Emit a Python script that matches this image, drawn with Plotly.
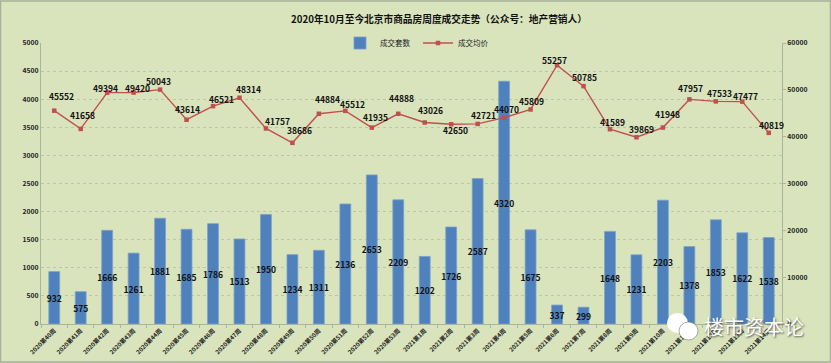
import plotly.graph_objects as go

weeks = [f"2020第{i}周" for i in range(40, 54)] + [f"2021第{i}周" for i in range(1, 15)]
units = [932, 575, 1666, 1261, 1881, 1685, 1786, 1513, 1950, 1234, 1311, 2136, 2653, 2209,
         1202, 1726, 2587, 4320, 1675, 337, 299, 1648, 1231, 2203, 1378, 1853, 1622, 1538]
prices = [45552, 41658, 49394, 49420, 50043, 43614, 46521, 48314, 41757, 38686, 44884, 45512, 41935, 44888,
          43026, 42650, 42721, 44070, 45809, 55257, 50785, 41589, 39869, 41948, 47957, 47533, 47477, 40819]
label_dx = [7, 2, -2, 4, -2, 1, 8, 9, 12, 7, 9, 7, 4, 3, 6, 4, 6, 2, 1, -3, 1, 3, 5, 5, 1, 4, 3, 3]
label_dy = [15, 14, 5, 5, 9, 11, 7, 9, 7, 13, 15, 7, 11, 16, 12, -6, 9, 9, 8, 5, 9, 7, 8, 14, 11, 8, 6, 8]

FONT = "Noto Sans CJK SC"
BG = "#d9e4bc"
GRID = "#bcc7a8"
AXIS = "#aab69c"
L, R, T, B = 41, 49, 42.5, 39
W, H = 831, 363
PW, PH = W - L - R, H - T - B


def px(x):
    return (x - L) / PW


def py(y):
    return 1 - (y - T) / PH


fig = go.Figure()
fig.add_trace(go.Bar(
    x=weeks, y=units, name="成交套数", marker=dict(color="#4f81bd", line=dict(color="#7ba0cd", width=0.8)),
    width=0.41, text=[str(v) for v in units], textposition="inside", insidetextanchor="middle",
    textangle=0, constraintext="none", cliponaxis=False,
    textfont=dict(family=FONT, size=8.5, color="#111111", weight="bold"),
))
fig.add_trace(go.Scatter(
    x=weeks, y=prices, name="成交均价", yaxis="y2", mode="lines+markers",
    line=dict(color="#c0504d", width=1.4), marker=dict(symbol="square", size=4.5, color="#c0504d"),
))

annotations = [
    dict(x=w, y=p, xref="x", yref="y2", text=str(p), showarrow=False, xshift=dx, yshift=dy,
         font=dict(family=FONT, size=8.5, color="#111111", weight="bold"))
    for w, p, dx, dy in zip(weeks, prices, label_dx, label_dy)
]
annotations.append(dict(
    x=px(754), y=py(327), xref="paper", yref="paper", xanchor="center", yanchor="middle", showarrow=False,
    text="楼市资本论", font=dict(family=FONT, size=20, color="white", shadow="1px 1px 2px #555555")))

shapes = [
    dict(type="rect", xref="paper", yref="paper", x0=px(0.5), x1=px(830.5), y0=py(362), y1=py(0.5),
         line=dict(color="#a7b09c", width=1.5), fillcolor="rgba(0,0,0,0)", layer="below"),
    dict(type="circle", xref="paper", yref="paper", x0=px(667), x1=px(688), y0=py(333), y1=py(313),
         line=dict(width=0), fillcolor="white"),
    dict(type="circle", xref="paper", yref="paper", x0=px(679), x1=px(698), y0=py(340), y1=py(322),
         line=dict(color="#777777", width=0.6), fillcolor="white"),
]

fig.update_layout(
    width=W, height=H, autosize=False,
    margin=dict(l=L, r=R, t=T, b=B, pad=0),
    paper_bgcolor=BG, plot_bgcolor=BG, bargap=0.59, showlegend=True,
    font=dict(family=FONT, size=7.5, color="#222222"),
    title=dict(text="2020年10月至今北京市商品房周度成交走势（公众号：地产营销人）",
               x=439 / W, xref="container", xanchor="center", y=1 - 20 / H, yanchor="middle",
               font=dict(family=FONT, size=9.7, color="#111111", weight="bold")),
    legend=dict(orientation="h", x=px(340), y=py(28), xanchor="left", yanchor="top",
                bgcolor="rgba(0,0,0,0)", font=dict(family=FONT, size=7.5, color="#222222"),
                itemwidth=30, tracegroupgap=0, entrywidth=33, entrywidthmode="pixels"),
    xaxis=dict(type="category", tickangle=-45, tickfont=dict(family=FONT, size=6, color="#222222", weight="bold"),
               showline=True, linecolor=AXIS, linewidth=1, ticks="outside", ticklen=3, tickcolor=AXIS,
               showgrid=False, range=[-0.5, 27.5], tickson="boundaries", automargin=False),
    yaxis=dict(range=[0, 5000], dtick=500, showline=True, linecolor=AXIS, linewidth=1, ticks="",
               gridcolor=GRID, griddash="dot", gridwidth=1, zeroline=False, automargin=False,
               tickfont=dict(family=FONT, size=6.8, color="#222222", weight="bold"), tickformat="d"),
    yaxis2=dict(range=[0, 60000], dtick=10000, overlaying="y", side="right", showline=True, linecolor=AXIS,
                linewidth=1, ticks="outside", ticklen=3, tickcolor=AXIS, showgrid=False, zeroline=False,
                automargin=False,
                tickfont=dict(family=FONT, size=6.8, color="#222222", weight="bold"), tickformat="d"),
    annotations=annotations,
    shapes=shapes,
)
fig.write_html("out.html", config={"displayModeBar": False},
               post_script="document.body.style.margin='0';")
